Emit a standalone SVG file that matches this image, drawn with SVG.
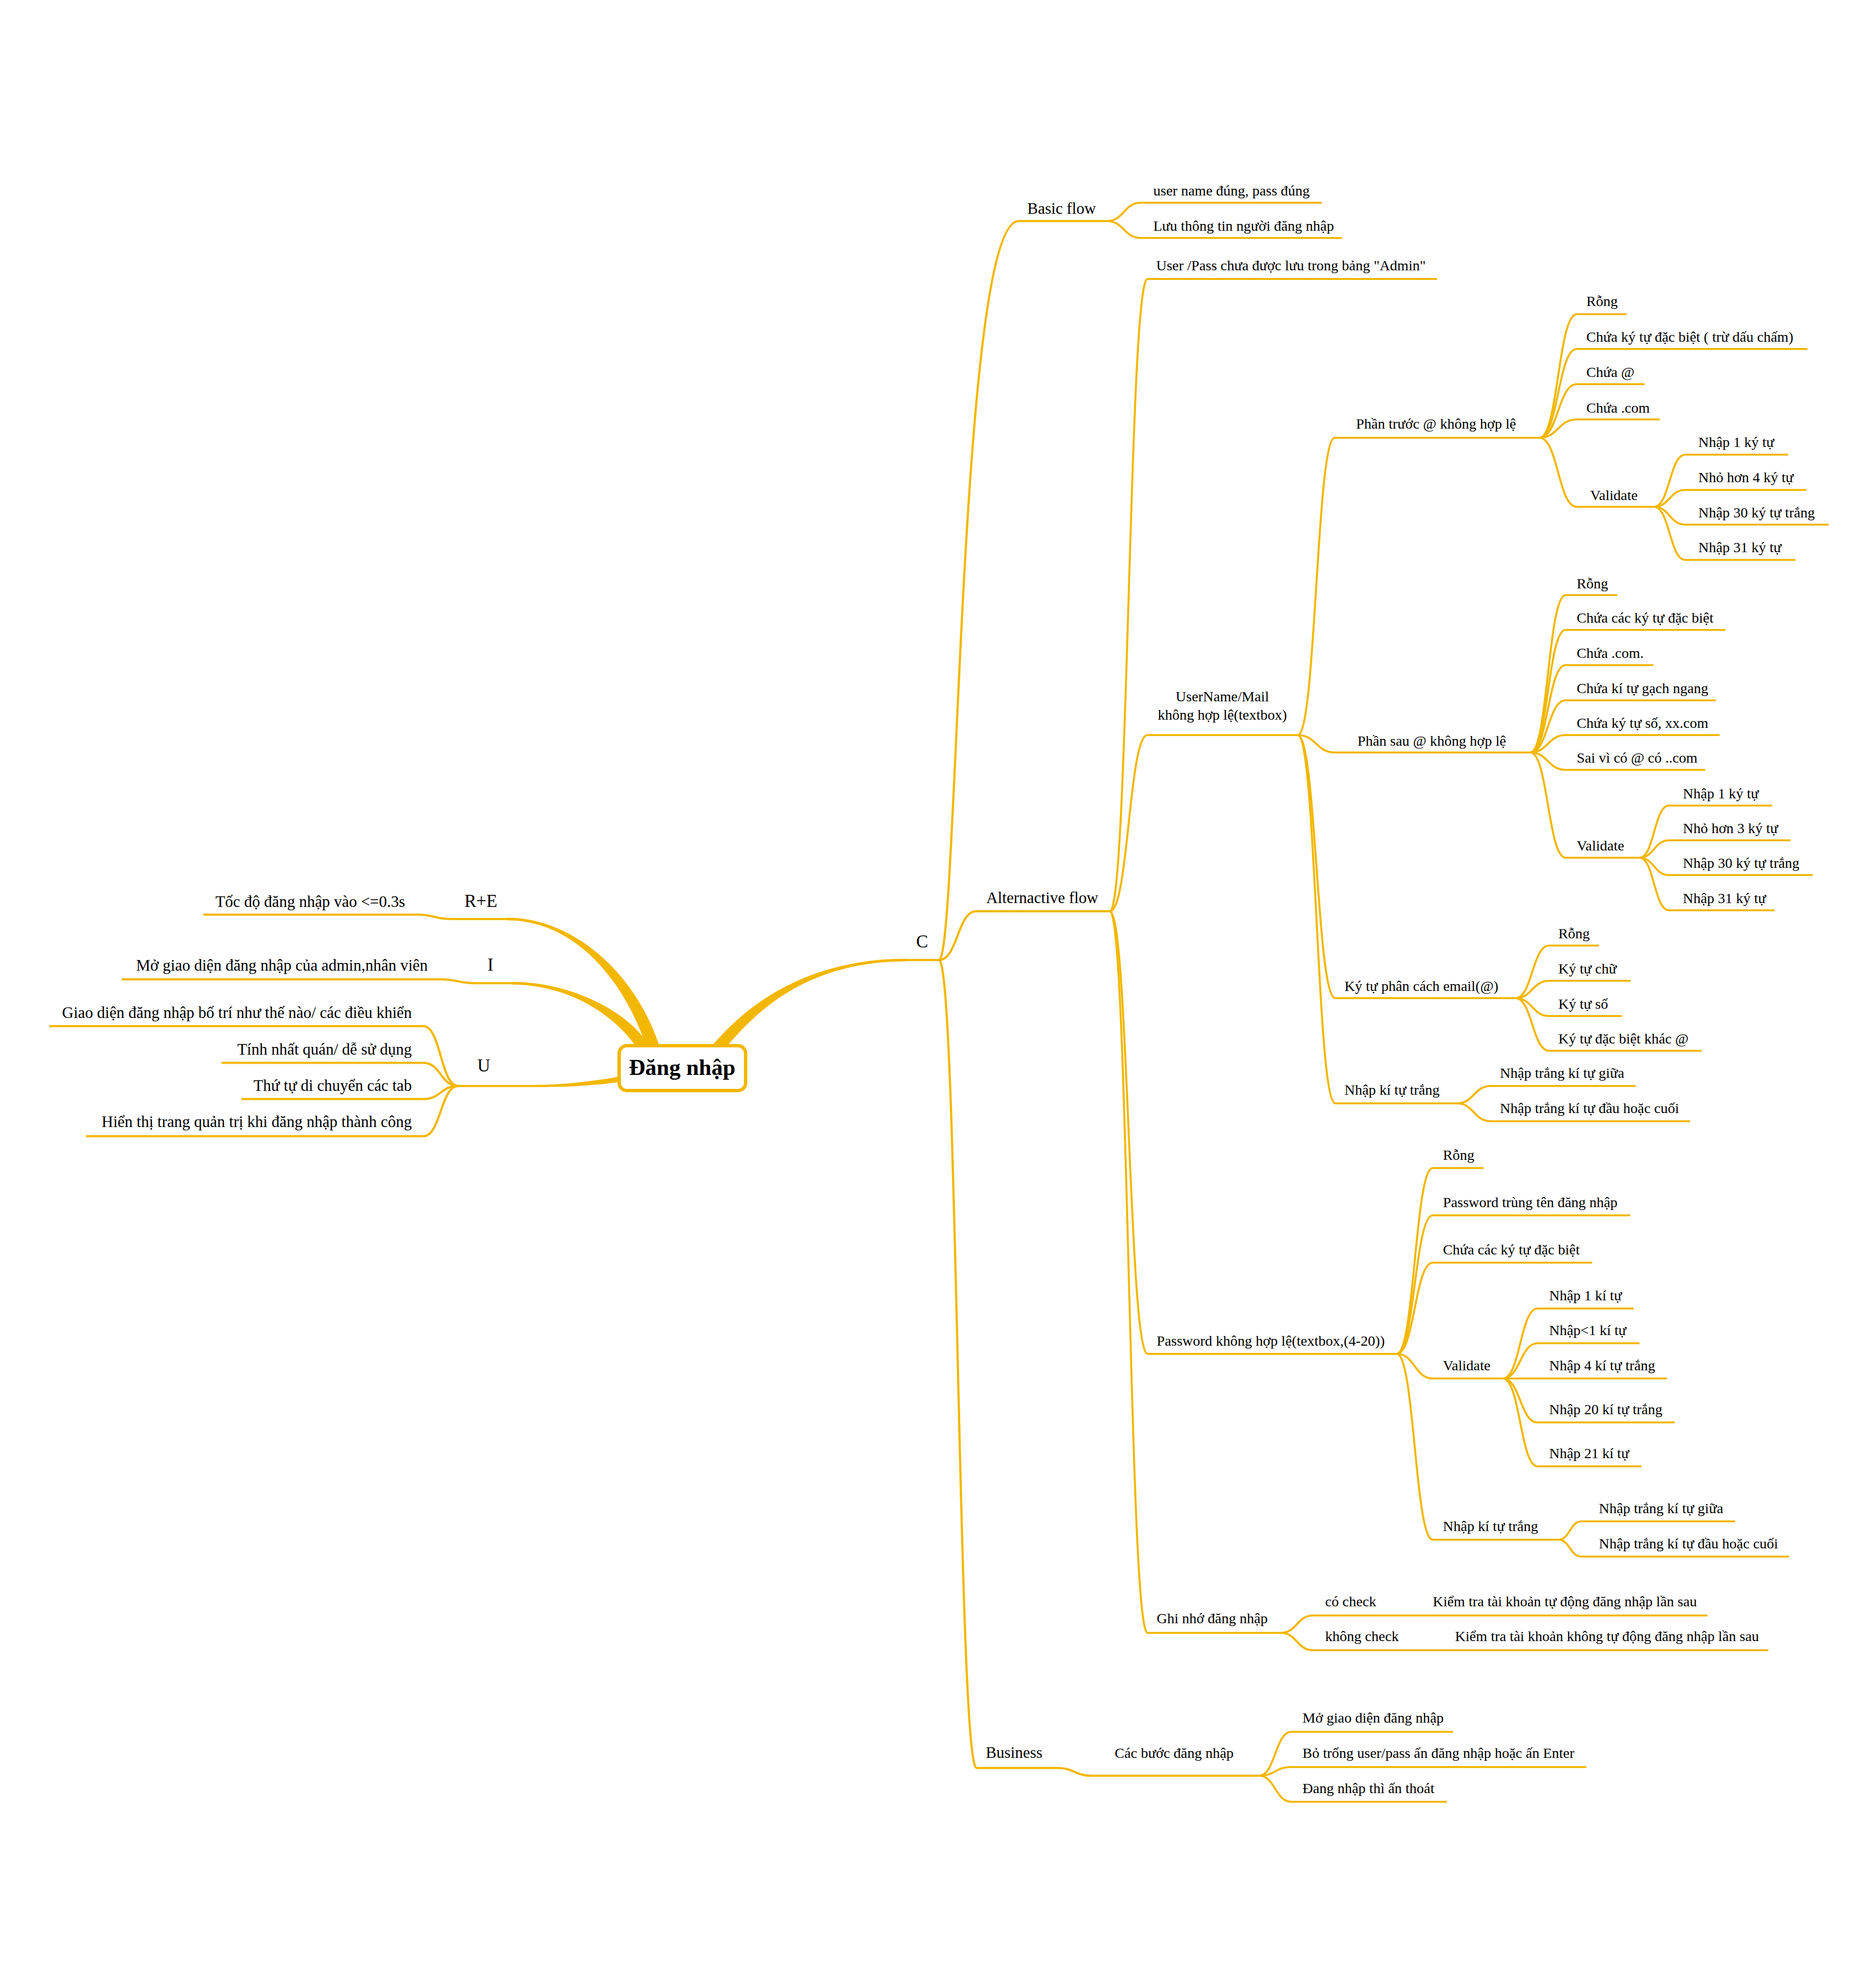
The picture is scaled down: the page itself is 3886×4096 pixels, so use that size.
<svg xmlns="http://www.w3.org/2000/svg" width="3886" height="4096" viewBox="0 0 3886 4096">
<style>
.t{font-family:"Liberation Serif","Times New Roman",serif;font-size:30px;fill:#000}
.l2{font-size:33px}
.l1{font-size:37px}
.rt{font-size:47px;font-weight:bold}
.ln{fill:none;stroke:#F2B700;stroke-width:4.2}
.ln4{stroke-width:4.6}
.tk{fill:#F2B700}
.box{fill:#fff;stroke:#F2B700;stroke-width:7}
</style>
<rect width="3886" height="4096" fill="#fff"/>
<g id="connectors">
<path class="tk" d="M1051,1901.3 C1180,1901.3 1312.3,2005.9 1366.3,2167.9 L1341.7,2176.1 C1287.7,2014.1 1180,1906.7 1051,1906.7 Z"/>
<path class="tk" d="M1061,2034.3 C1180,2034.3 1300.2,2093.7 1344.2,2165.7 L1323.8,2178.3 C1279.8,2106.3 1180,2039.7 1061,2039.7 Z"/>
<path class="tk" d="M1477,2164.1 C1531,2102.1 1650,1986.3 1878,1986.3 L1878,1991.7 C1650,1991.7 1549,2117.9 1495,2179.9 Z"/>
<path class="tk" d="M1100,2247.7 C1180,2247.7 1240,2237.5 1290,2229.5 L1290,2240.5 C1240,2248.5 1180,2252.3 1100,2252.3 Z"/>
<path class="ln ln4" d="M934,1904 C899.5,1904 899.5,1895 865,1895"/>
<path class="ln ln4" d="M984,2037 C948.5,2037 948.5,2029 913,2029"/>
<path class="ln ln4" d="M949,2250 C913,2250 913,2126 877,2126"/>
<path class="ln ln4" d="M949,2250 C913,2250 913,2202 877,2202"/>
<path class="ln ln4" d="M949,2250 C913,2250 913,2277 877,2277"/>
<path class="ln ln4" d="M949,2250 C913,2250 913,2354 877,2354"/>
<path class="ln ln4" d="M1945,1989 C1985,1989 1985,458 2110,458"/>
<path class="ln ln4" d="M1945,1989 C1983.5,1989 1983.5,1888 2022,1888"/>
<path class="ln ln4" d="M1945,1989 C1984,1989 1984,3663 2023,3663"/>
<path class="ln" d="M2293,458 C2328,458 2328,420 2363,420"/>
<path class="ln" d="M2293,458 C2328,458 2328,493 2363,493"/>
<path class="ln" d="M2299,1888 C2338,1888 2338,578 2377,578"/>
<path class="ln" d="M2299,1888 C2338,1888 2338,1523 2377,1523"/>
<path class="ln" d="M2299,1888 C2338,1888 2338,2805 2377,2805"/>
<path class="ln" d="M2299,1888 C2338,1888 2338,3383 2377,3383"/>
<path class="ln" d="M2688,1523 C2726.5,1523 2726.5,907 2765,907"/>
<path class="ln" d="M2688,1523 C2726.5,1523 2726.5,1559 2765,1559"/>
<path class="ln" d="M2688,1523 C2727,1523 2727,2068 2766,2068"/>
<path class="ln" d="M2688,1523 C2727,1523 2727,2286 2766,2286"/>
<path class="ln" d="M3189,907 C3227.5,907 3227.5,651 3266,651"/>
<path class="ln" d="M3189,907 C3227.5,907 3227.5,723 3266,723"/>
<path class="ln" d="M3189,907 C3227.5,907 3227.5,796 3266,796"/>
<path class="ln" d="M3189,907 C3227.5,907 3227.5,869 3266,869"/>
<path class="ln" d="M3189,907 C3227.5,907 3227.5,1050 3266,1050"/>
<path class="ln" d="M3426,1050 C3458.5,1050 3458.5,942 3491,942"/>
<path class="ln" d="M3426,1050 C3458.5,1050 3458.5,1015 3491,1015"/>
<path class="ln" d="M3426,1050 C3458.5,1050 3458.5,1087 3491,1087"/>
<path class="ln" d="M3426,1050 C3458.5,1050 3458.5,1160 3491,1160"/>
<path class="ln" d="M3170,1559 C3206.5,1559 3206.5,1233 3243,1233"/>
<path class="ln" d="M3170,1559 C3206.5,1559 3206.5,1305 3243,1305"/>
<path class="ln" d="M3170,1559 C3206.5,1559 3206.5,1378 3243,1378"/>
<path class="ln" d="M3170,1559 C3206.5,1559 3206.5,1451 3243,1451"/>
<path class="ln" d="M3170,1559 C3206.5,1559 3206.5,1523 3243,1523"/>
<path class="ln" d="M3170,1559 C3206.5,1559 3206.5,1595 3243,1595"/>
<path class="ln" d="M3170,1559 C3206.5,1559 3206.5,1777 3243,1777"/>
<path class="ln" d="M3396,1777 C3426.5,1777 3426.5,1669 3457,1669"/>
<path class="ln" d="M3396,1777 C3426.5,1777 3426.5,1741 3457,1741"/>
<path class="ln" d="M3396,1777 C3426.5,1777 3426.5,1813 3457,1813"/>
<path class="ln" d="M3396,1777 C3426.5,1777 3426.5,1886 3457,1886"/>
<path class="ln" d="M3139,2068 C3174,2068 3174,1959 3209,1959"/>
<path class="ln" d="M3139,2068 C3174,2068 3174,2032 3209,2032"/>
<path class="ln" d="M3139,2068 C3174,2068 3174,2105 3209,2105"/>
<path class="ln" d="M3139,2068 C3174,2068 3174,2177 3209,2177"/>
<path class="ln" d="M3018,2286 C3053,2286 3053,2250 3088,2250"/>
<path class="ln" d="M3018,2286 C3053,2286 3053,2323 3088,2323"/>
<path class="ln" d="M2893,2805 C2930.5,2805 2930.5,2420 2968,2420"/>
<path class="ln" d="M2893,2805 C2930.5,2805 2930.5,2518 2968,2518"/>
<path class="ln" d="M2893,2805 C2930.5,2805 2930.5,2616 2968,2616"/>
<path class="ln" d="M2893,2805 C2930.5,2805 2930.5,2856 2968,2856"/>
<path class="ln" d="M2893,2805 C2930.5,2805 2930.5,3190 2968,3190"/>
<path class="ln" d="M3113,2856 C3149,2856 3149,2711 3185,2711"/>
<path class="ln" d="M3113,2856 C3149,2856 3149,2783 3185,2783"/>
<path class="ln" d="M3113,2856 H3185"/>
<path class="ln" d="M3113,2856 C3149,2856 3149,2947 3185,2947"/>
<path class="ln" d="M3113,2856 C3149,2856 3149,3038 3185,3038"/>
<path class="ln" d="M3228,3190 C3252,3190 3252,3152 3276,3152"/>
<path class="ln" d="M3228,3190 C3252,3190 3252,3225 3276,3225"/>
<path class="ln" d="M2653,3383 C2686.5,3383 2686.5,3347 2720,3347"/>
<path class="ln" d="M2653,3383 C2686.5,3383 2686.5,3419 2720,3419"/>
<path class="ln" d="M2871,3347 H2951"/>
<path class="ln" d="M2915,3419 H2996"/>
<path class="ln ln4" d="M2190,3663 C2226,3663 2226,3679 2262,3679"/>
<path class="ln" d="M2608,3679 C2641.5,3679 2641.5,3588 2675,3588"/>
<path class="ln" d="M2608,3679 C2641.5,3679 2641.5,3661 2675,3661"/>
<path class="ln" d="M2608,3679 C2641.5,3679 2641.5,3733 2675,3733"/>
</g>

<g id="n-re"><path class="ln ln4" d="M934,1904 H1051"/><text class="t l1" x="996" y="1879" text-anchor="middle">R+E</text></g>
<g id="n-re-1"><path class="ln ln4" d="M421,1895 H865"/><text class="t l2" x="839" y="1879" text-anchor="end">Tốc độ đăng nhập vào &lt;=0.3s</text></g>
<g id="n-i"><path class="ln ln4" d="M984,2037 H1061"/><text class="t l1" x="1016" y="2011" text-anchor="middle">I</text></g>
<g id="n-i-1"><path class="ln ln4" d="M252,2029 H913"/><text class="t l2" x="886" y="2011" text-anchor="end">Mở giao diện đăng nhập của admin,nhân viên</text></g>
<g id="n-u"><path class="ln ln4" d="M949,2250 H1100"/><text class="t l1" x="1002" y="2220" text-anchor="middle">U</text></g>
<g id="n-u-1"><path class="ln ln4" d="M102,2126 H877"/><text class="t l2" x="853" y="2109" text-anchor="end">Giao diện đăng nhập bố trí như thế nào/ các điều khiển</text></g>
<g id="n-u-2"><path class="ln ln4" d="M459,2202 H877"/><text class="t l2" x="853" y="2185" text-anchor="end">Tính nhất quán/ dễ sử dụng</text></g>
<g id="n-u-3"><path class="ln ln4" d="M500,2277 H877"/><text class="t l2" x="853" y="2260" text-anchor="end">Thứ tự di chuyển các tab</text></g>
<g id="n-u-4"><path class="ln ln4" d="M178,2354 H877"/><text class="t l2" x="853" y="2335" text-anchor="end">Hiển thị trang quản trị khi đăng nhập thành công</text></g>

<g id="n-c"><path class="ln ln4" d="M1878,1989 H1945"/><text class="t l1" x="1910" y="1963" text-anchor="middle">C</text></g>
<g id="n-basic"><path class="ln ln4" d="M2110,458 H2293"/><text class="t l2" x="2128" y="443">Basic flow</text></g>
<g id="n-basic-1"><path class="ln" d="M2363,420 H2738"/><text class="t" x="2389" y="405">user name đúng, pass đúng</text></g>
<g id="n-basic-2"><path class="ln" d="M2363,493 H2780"/><text class="t" x="2389" y="478">Lưu thông tin người đăng nhập</text></g>

<g id="n-alt"><path class="ln ln4" d="M2022,1888 H2299"/><text class="t l2" x="2043" y="1871">Alternactive flow</text></g>
<g id="n-alt-1"><path class="ln" d="M2377,578 H2977"/><text class="t" x="2395" y="560">User /Pass chưa được lưu trong bảng "Admin"</text></g>
<g id="n-user"><path class="ln" d="M2377,1523 H2688"/><text class="t" x="2532" y="1453" text-anchor="middle">UserName/Mail</text><text class="t" x="2532" y="1491" text-anchor="middle">không hợp lệ(textbox)</text></g>

<g id="n-pt"><path class="ln" d="M2765,907 H3189"/><text class="t" x="2809" y="888">Phần trước @ không hợp lệ</text></g>
<g id="n-pt-1"><path class="ln" d="M3266,651 H3369"/><text class="t" x="3286" y="634">Rỗng</text></g>
<g id="n-pt-2"><path class="ln" d="M3266,723 H3744"/><text class="t" x="3286" y="708">Chứa ký tự đặc biệt ( trừ dấu chấm)</text></g>
<g id="n-pt-3"><path class="ln" d="M3266,796 H3407"/><text class="t" x="3286" y="781">Chứa @</text></g>
<g id="n-pt-4"><path class="ln" d="M3266,869 H3438"/><text class="t" x="3286" y="855">Chứa .com</text></g>
<g id="n-pt-v"><path class="ln" d="M3266,1050 H3426"/><text class="t" x="3294" y="1036">Validate</text></g>
<g id="n-pt-v1"><path class="ln" d="M3491,942 H3704"/><text class="t" x="3518" y="926">Nhập 1 ký tự</text></g>
<g id="n-pt-v2"><path class="ln" d="M3491,1015 H3742"/><text class="t" x="3518" y="999">Nhỏ hơn 4 ký tự</text></g>
<g id="n-pt-v3"><path class="ln" d="M3491,1087 H3788"/><text class="t" x="3518" y="1072">Nhập 30 ký tự trắng</text></g>
<g id="n-pt-v4"><path class="ln" d="M3491,1160 H3719"/><text class="t" x="3518" y="1144">Nhập 31 ký tự</text></g>

<g id="n-ps"><path class="ln" d="M2765,1559 H3170"/><text class="t" x="2812" y="1545">Phần sau @ không hợp lệ</text></g>
<g id="n-ps-1"><path class="ln" d="M3243,1233 H3350"/><text class="t" x="3266" y="1219">Rỗng</text></g>
<g id="n-ps-2"><path class="ln" d="M3243,1305 H3574"/><text class="t" x="3266" y="1290">Chứa các ký tự đặc biệt</text></g>
<g id="n-ps-3"><path class="ln" d="M3243,1378 H3425"/><text class="t" x="3266" y="1363">Chứa .com.</text></g>
<g id="n-ps-4"><path class="ln" d="M3243,1451 H3554"/><text class="t" x="3266" y="1436">Chứa kí tự gạch ngang</text></g>
<g id="n-ps-5"><path class="ln" d="M3243,1523 H3562"/><text class="t" x="3266" y="1508">Chứa ký tự số, xx.com</text></g>
<g id="n-ps-6"><path class="ln" d="M3243,1595 H3532"/><text class="t" x="3266" y="1580">Sai vì có @ có ..com</text></g>
<g id="n-ps-v"><path class="ln" d="M3243,1777 H3396"/><text class="t" x="3266" y="1762">Validate</text></g>
<g id="n-ps-v1"><path class="ln" d="M3457,1669 H3671"/><text class="t" x="3486" y="1654">Nhập 1 ký tự</text></g>
<g id="n-ps-v2"><path class="ln" d="M3457,1741 H3709"/><text class="t" x="3486" y="1726">Nhỏ hơn 3 ký tự</text></g>
<g id="n-ps-v3"><path class="ln" d="M3457,1813 H3755"/><text class="t" x="3486" y="1798">Nhập 30 ký tự trắng</text></g>
<g id="n-ps-v4"><path class="ln" d="M3457,1886 H3676"/><text class="t" x="3486" y="1871">Nhập 31 ký tự</text></g>

<g id="n-kt"><path class="ln" d="M2766,2068 H3139"/><text class="t" x="2785" y="2053">Ký tự phân cách email(@)</text></g>
<g id="n-kt-1"><path class="ln" d="M3209,1959 H3312"/><text class="t" x="3228" y="1944">Rỗng</text></g>
<g id="n-kt-2"><path class="ln" d="M3209,2032 H3378"/><text class="t" x="3228" y="2017">Ký tự chữ</text></g>
<g id="n-kt-3"><path class="ln" d="M3209,2105 H3360"/><text class="t" x="3228" y="2090">Ký tự số</text></g>
<g id="n-kt-4"><path class="ln" d="M3209,2177 H3525"/><text class="t" x="3228" y="2162">Ký tự đặc biệt khác @</text></g>

<g id="n-nt1"><path class="ln" d="M2766,2286 H3018"/><text class="t" x="2785" y="2268">Nhập kí tự trắng</text></g>
<g id="n-nt1-1"><path class="ln" d="M3088,2250 H3388"/><text class="t" x="3107" y="2233">Nhập trắng kí tự giữa</text></g>
<g id="n-nt1-2"><path class="ln" d="M3088,2323 H3501"/><text class="t" x="3107" y="2306">Nhập trắng kí tự đầu hoặc cuối</text></g>

<g id="n-pw"><path class="ln" d="M2377,2805 H2893"/><text class="t" x="2396" y="2788">Password không hợp lệ(textbox,(4-20))</text></g>
<g id="n-pw-1"><path class="ln" d="M2968,2420 H3073"/><text class="t" x="2989" y="2403">Rỗng</text></g>
<g id="n-pw-2"><path class="ln" d="M2968,2518 H3377"/><text class="t" x="2989" y="2501">Password trùng tên đăng nhập</text></g>
<g id="n-pw-3"><path class="ln" d="M2968,2616 H3298"/><text class="t" x="2989" y="2599">Chứa các ký tự đặc biệt</text></g>
<g id="n-pw-v"><path class="ln" d="M2968,2856 H3113"/><text class="t" x="2989" y="2839">Validate</text></g>
<g id="n-pw-v1"><path class="ln" d="M3185,2711 H3384"/><text class="t" x="3209" y="2694">Nhập 1 kí tự</text></g>
<g id="n-pw-v2"><path class="ln" d="M3185,2783 H3396"/><text class="t" x="3209" y="2766">Nhập&lt;1 kí tự</text></g>
<g id="n-pw-v3"><path class="ln" d="M3185,2856 H3453"/><text class="t" x="3209" y="2839">Nhập 4 kí tự trắng</text></g>
<g id="n-pw-v4"><path class="ln" d="M3185,2947 H3469"/><text class="t" x="3209" y="2930">Nhập 20 kí tự trắng</text></g>
<g id="n-pw-v5"><path class="ln" d="M3185,3038 H3400"/><text class="t" x="3209" y="3021">Nhập 21 kí tự</text></g>
<g id="n-nt2"><path class="ln" d="M2968,3190 H3228"/><text class="t" x="2989" y="3172">Nhập kí tự trắng</text></g>
<g id="n-nt2-1"><path class="ln" d="M3276,3152 H3594"/><text class="t" x="3312" y="3135">Nhập trắng kí tự giữa</text></g>
<g id="n-nt2-2"><path class="ln" d="M3276,3225 H3706"/><text class="t" x="3312" y="3208">Nhập trắng kí tự đầu hoặc cuối</text></g>

<g id="n-gn"><path class="ln" d="M2377,3383 H2653"/><text class="t" x="2396" y="3363">Ghi nhớ đăng nhập</text></g>
<g id="n-gn-1"><path class="ln" d="M2720,3347 H2871"/><text class="t" x="2745" y="3328">có check</text></g>
<g id="n-gn-1a"><path class="ln" d="M2951,3347 H3537"/><text class="t" x="2968" y="3328">Kiểm tra tài khoản tự động đăng nhập lần sau</text></g>
<g id="n-gn-2"><path class="ln" d="M2720,3419 H2915"/><text class="t" x="2745" y="3400">không check</text></g>
<g id="n-gn-2a"><path class="ln" d="M2996,3419 H3663"/><text class="t" x="3014" y="3400">Kiểm tra tài khoản không tự động đăng nhập lần sau</text></g>

<g id="n-bus"><path class="ln ln4" d="M2023,3663 H2190"/><text class="t l2" x="2042" y="3642">Business</text></g>
<g id="n-bus-1"><path class="ln ln4" d="M2262,3679 H2608"/><text class="t" x="2309" y="3642">Các bước đăng nhập</text></g>
<g id="n-bus-1a"><path class="ln" d="M2675,3588 H3010"/><text class="t" x="2698" y="3569">Mở giao diện đăng nhập</text></g>
<g id="n-bus-1b"><path class="ln" d="M2675,3661 H3286"/><text class="t" x="2698" y="3642">Bỏ trống user/pass ấn đăng nhập hoặc ấn Enter</text></g>
<g id="n-bus-1c"><path class="ln" d="M2675,3733 H2997"/><text class="t" x="2698" y="3715">Đang nhập thì ấn thoát</text></g>

<g id="n-root"><rect class="box" x="1282.5" y="2166.5" width="262" height="93" rx="16"/><text class="t rt" x="1413" y="2227" text-anchor="middle">Đăng nhập</text></g>
</svg>
